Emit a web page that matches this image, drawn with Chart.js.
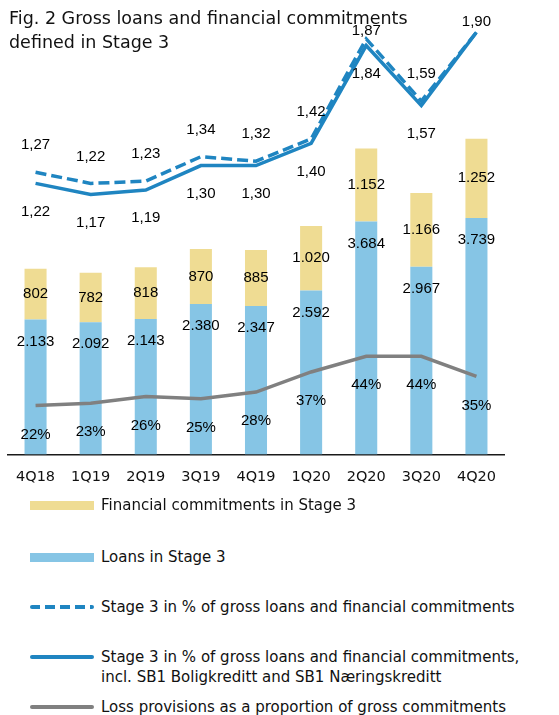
<!DOCTYPE html>
<html>
<head>
<meta charset="utf-8">
<script src="https://cdn.jsdelivr.net/npm/chart.js@4.4.1/dist/chart.umd.min.js"></script>
<style>
  html, body { margin: 0; padding: 0; background: #fff; }
  #wrap { position: relative; width: 559px; height: 715px; overflow: hidden; }
  #c { position: absolute; left: 0; top: 0; }
  .title { position: absolute; left: 9px; top: 6px; font-family: "DejaVu Sans", Verdana, sans-serif; font-size: 17.5px; line-height: 24px; color: #111; }
  .lg { position: absolute; left: 0; font-family: "DejaVu Sans", Verdana, sans-serif; font-size: 15px; line-height: 20px; color: #111; }
  .lg .sym { position: absolute; left: 30px; width: 64px; }
  .lg .txt { position: absolute; left: 101px; white-space: nowrap; }
</style>
</head>
<body>
<div id="wrap">
  <canvas id="c" width="559" height="500"></canvas>
  <div class="title">Fig. 2 Gross loans and financial commitments<br>defined in Stage 3</div>
  <div id="legend"></div>
</div>
<script>
const categories = ["4Q18","1Q19","2Q19","3Q19","4Q19","1Q20","2Q20","3Q20","4Q20"];
const loansStage3 = [2133, 2092, 2143, 2380, 2347, 2592, 3684, 2967, 3739];
const commitmentsStage3 = [802, 782, 818, 870, 885, 1020, 1152, 1166, 1252];
const stage3Pct = [1.27, 1.22, 1.23, 1.34, 1.32, 1.42, 1.87, 1.59, 1.90];
const stage3PctInclSB1 = [1.22, 1.17, 1.19, 1.30, 1.30, 1.40, 1.84, 1.57, 1.90];
const lossProvisionsPct = [22, 23, 26, 25, 28, 37, 44, 44, 35];

const COL_YELLOW = "#EFDC93";
const COL_LBLUE = "#86C5E5";
const COL_BLUE = "#1F85C1";
const COL_GRAY = "#808080";

const fmtThousands = v => String(v).replace(/\B(?=(\d{3})+(?!\d))/g, ".");
const fmtDec = v => v.toFixed(2).replace(".", ",");

const labelPlugin = {
  id: "valueLabels",
  afterDatasetsDraw(chart) {
    const ctx = chart.ctx;
    ctx.save();
    ctx.font = "15px 'Liberation Sans', Arial, sans-serif";
    ctx.fillStyle = "#000";
    ctx.textAlign = "center";
    ctx.textBaseline = "middle";
    const top = chart.chartArea.top;
    chart.data.datasets.forEach((ds, di) => {
      const meta = chart.getDatasetMeta(di);
      const kind = ds.labelKind;
      meta.data.forEach((el, i) => {
        const v = ds.data[i];
        let x = el.x, y;
        let text;
        if (kind === "commit") {
          y = (el.y + el.base) / 2; text = fmtThousands(v);
        } else if (kind === "loans") {
          y = el.y + 22; text = fmtThousands(v);
        } else if (kind === "above") {
          if (ds.skipLabel && ds.skipLabel.includes(i)) return;
          const ov = ds.labelOffsetOverride && ds.labelOffsetOverride[i];
          y = el.y - (ov !== undefined ? ov : 27);
          if (y < top + 2) y = top + 2;
          text = fmtDec(v);
        } else if (kind === "below") {
          if (ds.skipLabel && ds.skipLabel.includes(i)) return;
          y = el.y + 28; text = fmtDec(v);
        } else if (kind === "pct") {
          y = el.y + 29; text = v + "%";
        } else return;
        ctx.fillText(text, x, y);
      });
    });
    ctx.restore();
  }
};

new Chart(document.getElementById("c"), {
  type: "bar",
  data: {
    labels: categories,
    datasets: [
      { label: "Loans in Stage 3", data: loansStage3, backgroundColor: COL_LBLUE, yAxisID: "y", order: 3, labelKind: "loans", barPercentage: 0.4, categoryPercentage: 1.0 },
      { label: "Financial commitments in Stage 3", data: commitmentsStage3, backgroundColor: COL_YELLOW, yAxisID: "y", order: 3, labelKind: "commit", barPercentage: 0.4, categoryPercentage: 1.0 },
      { type: "line", label: "Loss provisions as a proportion of gross commitments", data: lossProvisionsPct, borderColor: COL_GRAY, borderWidth: 3.5, pointRadius: 0, yAxisID: "y2", order: 2, labelKind: "pct" },
      { type: "line", label: "Stage 3 in % of gross loans and financial commitments, incl. SB1 Boligkreditt and SB1 Næringskreditt", data: stage3PctInclSB1, borderColor: COL_BLUE, borderWidth: 3.5, pointRadius: 0, yAxisID: "y1", order: 1, labelKind: "below", skipLabel: [8] },
      { type: "line", label: "Stage 3 in % of gross loans and financial commitments", data: stage3Pct, borderColor: COL_BLUE, borderWidth: 3.5, borderDash: [11, 5], pointRadius: 0, yAxisID: "y1", order: 0, labelKind: "above", labelOffsetOverride: { 6: 8, 8: 15 } }
    ]
  },
  options: {
    responsive: false,
    animation: false,
    devicePixelRatio: 1,
    layout: { padding: { left: 8, right: 55, top: 20, bottom: 0 } },
    plugins: { legend: { display: false }, tooltip: { enabled: false }, title: { display: false } },
    scales: {
      x: {
        stacked: true,
        offset: true,
        grid: { display: false, drawTicks: false },
        border: { display: true, color: "#1a1a1a", width: 1.5 },
        ticks: { color: "#111", padding: 14, font: { family: "'DejaVu Sans', Verdana, sans-serif", size: 14.5 } }
      },
      y: { stacked: true, display: false, min: 0, max: 6867 },
      y1: { display: false, min: 0, max: 1.955 },
      y2: { display: false, min: 0, max: 194.6 }
    }
  },
  plugins: [labelPlugin]
});

// HTML legend
const legendItems = [
  { text: "Financial commitments in Stage 3", y: 505, sym: `background:${COL_YELLOW};height:9px;` },
  { text: "Loans in Stage 3", y: 557, sym: `background:${COL_LBLUE};height:9px;` },
  { text: "Stage 3 in % of gross loans and financial commitments", y: 607, sym: `background:repeating-linear-gradient(to right, ${COL_BLUE} 0 10px, transparent 10px 15px);height:4px;border-radius:2px;` },
  { text: "Stage 3 in % of gross loans and financial commitments,<br>incl. SB1 Boligkreditt and SB1 Næringskreditt", y: 657, sym: `background:${COL_BLUE};height:4px;border-radius:2px;` },
  { text: "Loss provisions as a proportion of gross commitments", y: 707, sym: `background:${COL_GRAY};height:4px;border-radius:2px;` }
];
const lg = document.getElementById("legend");
legendItems.forEach(it => {
  const d = document.createElement("div");
  d.className = "lg";
  d.style.top = it.y + "px";
  const h = parseFloat(it.sym.match(/height:(\d+)px/)[1]);
  d.innerHTML = `<div class="sym" style="${it.sym}top:${-h/2}px"></div><div class="txt" style="top:-10px">${it.text}</div>`;
  lg.appendChild(d);
});
</script>
</body>
</html>
